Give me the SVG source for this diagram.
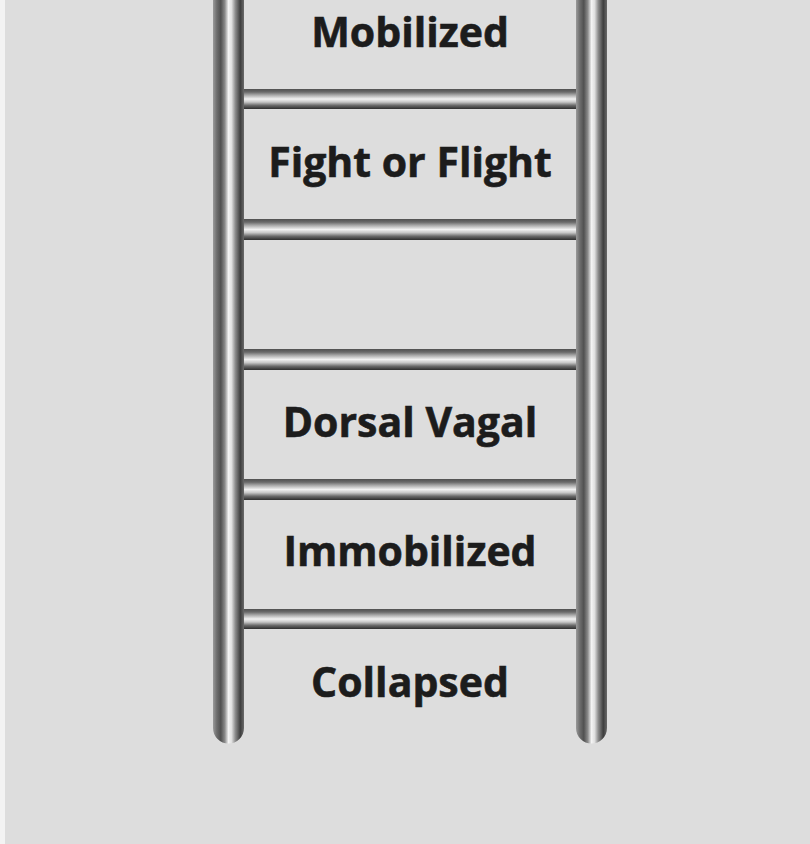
<svg xmlns="http://www.w3.org/2000/svg" width="810" height="844" viewBox="0 0 810 844">
<style>
.lbl{font-family:"Open Sans","Liberation Sans",sans-serif;font-weight:700;font-size:41px;fill:#1c1c1c;stroke:#1c1c1c;stroke-width:0.6;text-anchor:middle}
</style>
<defs>
<linearGradient id="rail" x1="0" y1="0" x2="1" y2="0">
<stop offset="0" stop-color="#9a9a9a"/>
<stop offset="0.12" stop-color="#6e6e6e"/>
<stop offset="0.25" stop-color="#505050"/>
<stop offset="0.38" stop-color="#8a8a8a"/>
<stop offset="0.5" stop-color="#f4f4f4"/>
<stop offset="0.6" stop-color="#e0e0e0"/>
<stop offset="0.72" stop-color="#8c8c8c"/>
<stop offset="0.88" stop-color="#3e3e3e"/>
<stop offset="1" stop-color="#6a6a6a"/>
</linearGradient>
<linearGradient id="rung" x1="0" y1="0" x2="0" y2="1">
<stop offset="0" stop-color="#505050"/>
<stop offset="0.15" stop-color="#6a6a6a"/>
<stop offset="0.3" stop-color="#a8a8a8"/>
<stop offset="0.5" stop-color="#f2f2f2"/>
<stop offset="0.65" stop-color="#c8c8c8"/>
<stop offset="0.82" stop-color="#6a6a6a"/>
<stop offset="1" stop-color="#2e2e2e"/>
</linearGradient>
</defs>
<rect x="0" y="0" width="810" height="844" fill="#dddddd"/>
<rect x="0" y="0" width="5" height="844" fill="#f3f3f3"/>
<g id="connectors">
<rect x="243" y="89" width="334" height="20" fill="url(#rung)"/>
<rect x="243" y="219" width="334" height="21" fill="url(#rung)"/>
<rect x="243" y="349" width="334" height="21" fill="url(#rung)"/>
<rect x="243" y="479" width="334" height="21" fill="url(#rung)"/>
<rect x="243" y="609" width="334" height="20" fill="url(#rung)"/>
</g>
<g id="rail-left"><path d="M213,-5 H244 V728 A15.5,15.5 0 0 1 213,728 Z" fill="url(#rail)"/></g>
<g id="rail-right"><path d="M576,-5 H607 V728 A15.5,15.5 0 0 1 576,728 Z" fill="url(#rail)"/></g>
<g id="mobilized"><text class="lbl" x="410" y="47">Mobilized</text></g>
<g id="fight-or-flight"><text class="lbl" x="410" y="177">Fight or Flight</text></g>
<g id="dorsal-vagal"><text class="lbl" x="410" y="437">Dorsal Vagal</text></g>
<g id="immobilized"><text class="lbl" x="410" y="566">Immobilized</text></g>
<g id="collapsed"><text class="lbl" x="410" y="697">Collapsed</text></g>
</svg>
